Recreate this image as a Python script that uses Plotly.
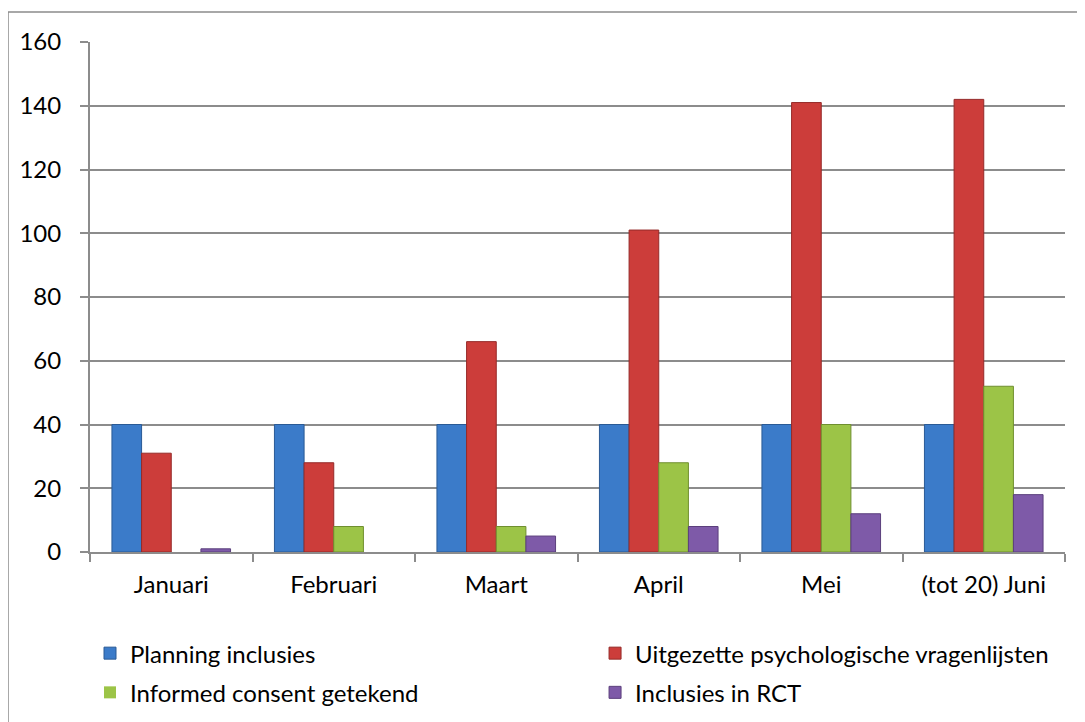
import plotly.graph_objects as go

categories = ["Januari", "Februari", "Maart", "April", "Mei", "(tot 20) Juni"]
planning = [40, 40, 40, 40, 40, 40]
uitgezet = [31, 28, 66, 101, 141, 142]
informed = [0, 8, 8, 28, 40, 52]
rct = [1, 0, 5, 8, 12, 18]

series_names = ["Planning inclusies", "Uitgezette psychologische vragenlijsten",
                "Informed consent getekend", "Inclusies in RCT"]
series_values = [planning, uitgezet, informed, rct]
colors = ["#3b7bc9", "#cc3d3a", "#9cc447", "#7e5aa8"]
edges = ["#2a5a95", "#952a28", "#6f8f2f", "#5b3f7c"]
legend_ids = ["legend", "legend2", "legend", "legend2"]

FONT = "Lato, Carlito, Calibri, 'Open Sans', sans-serif"
FS = 24

fig = go.Figure()
for i, (name, vals, c, e, lg) in enumerate(zip(series_names, series_values, colors, edges, legend_ids)):
    fig.add_trace(go.Bar(
        x=categories, y=vals, name=name,
        marker=dict(color=c, line=dict(color=e, width=[1 if v else 0 for v in vals])),
        legend=lg, legendgroup=f"g{i}",
    ))

leg_common = dict(
    orientation="v", yanchor="top", xanchor="left",
    font=dict(family=FONT, size=FS, color="black"),
    traceorder="grouped", tracegroupgap=5, bgcolor="rgba(0,0,0,0)",
)

fig.update_layout(
    width=1085, height=722,
    margin=dict(l=82, r=28, t=34, b=178, autoexpand=False),
    paper_bgcolor="white", plot_bgcolor="white",
    barmode="group", bargap=0.27, bargroupgap=0,
    font=dict(family=FONT, size=FS, color="black"),
    legend=dict(x=0.0, y=-0.155, **leg_common),
    legend2=dict(x=0.518, y=-0.155, **leg_common),
    xaxis=dict(
        showline=True, linecolor="#8c8c8c", linewidth=2,
        ticks="outside", tickson="boundaries", ticklen=8, tickcolor="#8c8c8c", tickwidth=2,
        showgrid=False, tickfont=dict(size=FS), ticklabelstandoff=10,
    ),
    yaxis=dict(
        range=[0, 160], dtick=20, showline=True, linecolor="#8c8c8c", linewidth=2,
        ticks="outside", ticklen=8, tickcolor="#8c8c8c", tickwidth=2,
        showgrid=True, gridcolor="#8c8c8c", gridwidth=2, zeroline=False,
        tickfont=dict(size=FS), ticklabelstandoff=14,
    ),
    shapes=[dict(
        type="rect", xref="paper", yref="paper",
        x0=-0.0841, x1=1.2, y0=-0.6, y1=1.0588,
        line=dict(color="#8c8c8c", width=1.5), layer="below",
    )],
)

fig.write_html("out.html")
